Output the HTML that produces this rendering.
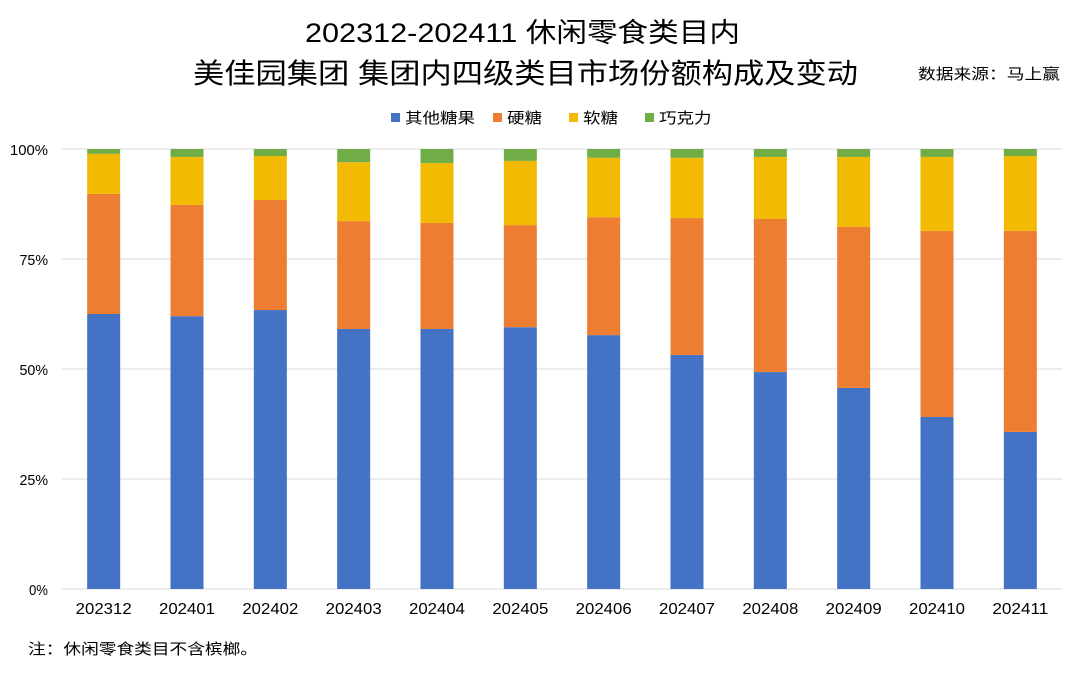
<!DOCTYPE html>
<html><head><meta charset="utf-8">
<style>
body{margin:0;background:#fff;}
svg text{font-family:"Liberation Sans","Noto Sans CJK SC",sans-serif;}
</style></head>
<body>
<svg width="1080" height="668" viewBox="0 0 1080 668">
<text x="305" y="42" textLength="435" lengthAdjust="spacingAndGlyphs" font-size="27" fill="#000">202312-202411 休闲零食类目内</text>
<text x="193" y="83" textLength="665" lengthAdjust="spacingAndGlyphs" font-size="28" fill="#000">美佳园集团 集团内四级类目市场份额构成及变动</text>
<text x="918" y="79" textLength="142" lengthAdjust="spacingAndGlyphs" font-size="15" fill="#000">数据来源：马上赢</text>
<g id="legend"></g>
<g id="grid"></g>
<g id="bars"></g>
<g id="xlabels"></g>
<text x="28" y="654" textLength="230" lengthAdjust="spacingAndGlyphs" font-size="15" fill="#000" font-family="'Liberation Serif','Noto Serif CJK SC',serif">注：休闲零食类目不含槟榔。</text>
</svg>
<script>
const categories=["202312","202401","202402","202403","202404","202405","202406","202407","202408","202409","202410","202411"];
const seriesNames=["其他糖果","硬糖","软糖","巧克力"];
const otherCandy=[62.5,62.0,63.4,59.1,59.1,59.5,57.7,53.2,49.3,45.7,39.1,35.7];
const hardCandy=[27.3,25.3,25.0,24.5,24.1,23.2,26.8,31.1,34.8,36.6,42.3,45.7];
const softCandy=[9.1,10.9,10.0,13.4,13.6,14.6,13.5,13.7,14.1,15.9,16.8,17.0];
const chocolate=[1.1,1.8,1.6,3.0,3.2,2.7,2.0,2.0,1.8,1.8,1.8,1.6];
const yTicks=[0,25,50,75,100];
const colors=["#4472C4","#ED7D31","#F2BA02","#70AD47"];
const NS="http://www.w3.org/2000/svg";
const top0=149,bot0=589,left0=62,right0=1062;
const y=v=>bot0-(v/100)*(bot0-top0);
const step=(right0-left0)/categories.length;
const x=i=>left0+step*(i+0.5);
const bw=33;
function mk(t,a,p){const e=document.createElementNS(NS,t);for(const k in a)e.setAttribute(k,a[k]);p.appendChild(e);return e;}
const grid=document.getElementById('grid');
yTicks.forEach(t=>{
 const l=mk('line',{x1:left0,x2:right0,y1:y(t),y2:y(t),stroke:'#d9d9d9','stroke-width':1},grid);
 
 
 const s=t+'%';
 const w=s.length*9.5;
 const tx=mk('text',{x:48-w,y:y(t)+6,'font-size':15,fill:'#000',textLength:w,lengthAdjust:'spacingAndGlyphs'},grid);
 tx.textContent=s;
 
 
});
const series=[otherCandy,hardCandy,softCandy,chocolate];
const bars=document.getElementById('bars');
categories.forEach((c,i)=>{
 let cum=0;
 series.forEach((s,k)=>{
  const v=s[i];
  const r=mk('rect',{x:x(i)-bw/2,y:y(cum+v),width:bw,height:y(cum)-y(cum+v),fill:colors[k]},bars);
  
  
  cum+=v;
 });
 const t=mk('text',{x:x(i)-28,y:614,'font-size':16,fill:'#000',textLength:56,lengthAdjust:'spacingAndGlyphs'},document.getElementById('xlabels'));
 t.textContent=c;
 
 
});
const lg=document.getElementById('legend');
const lx=[391,493,569,645];
seriesNames.forEach((n,k)=>{
 const r=mk('rect',{x:lx[k],y:113,width:9,height:9,fill:colors[k]},lg);
 
 
 const t=mk('text',{x:lx[k]+14,y:123,'font-size':15,fill:'#000',textLength:n.length*17.5,lengthAdjust:'spacingAndGlyphs'},lg);
 t.textContent=n;
 
 
});
</script>
</body></html>
